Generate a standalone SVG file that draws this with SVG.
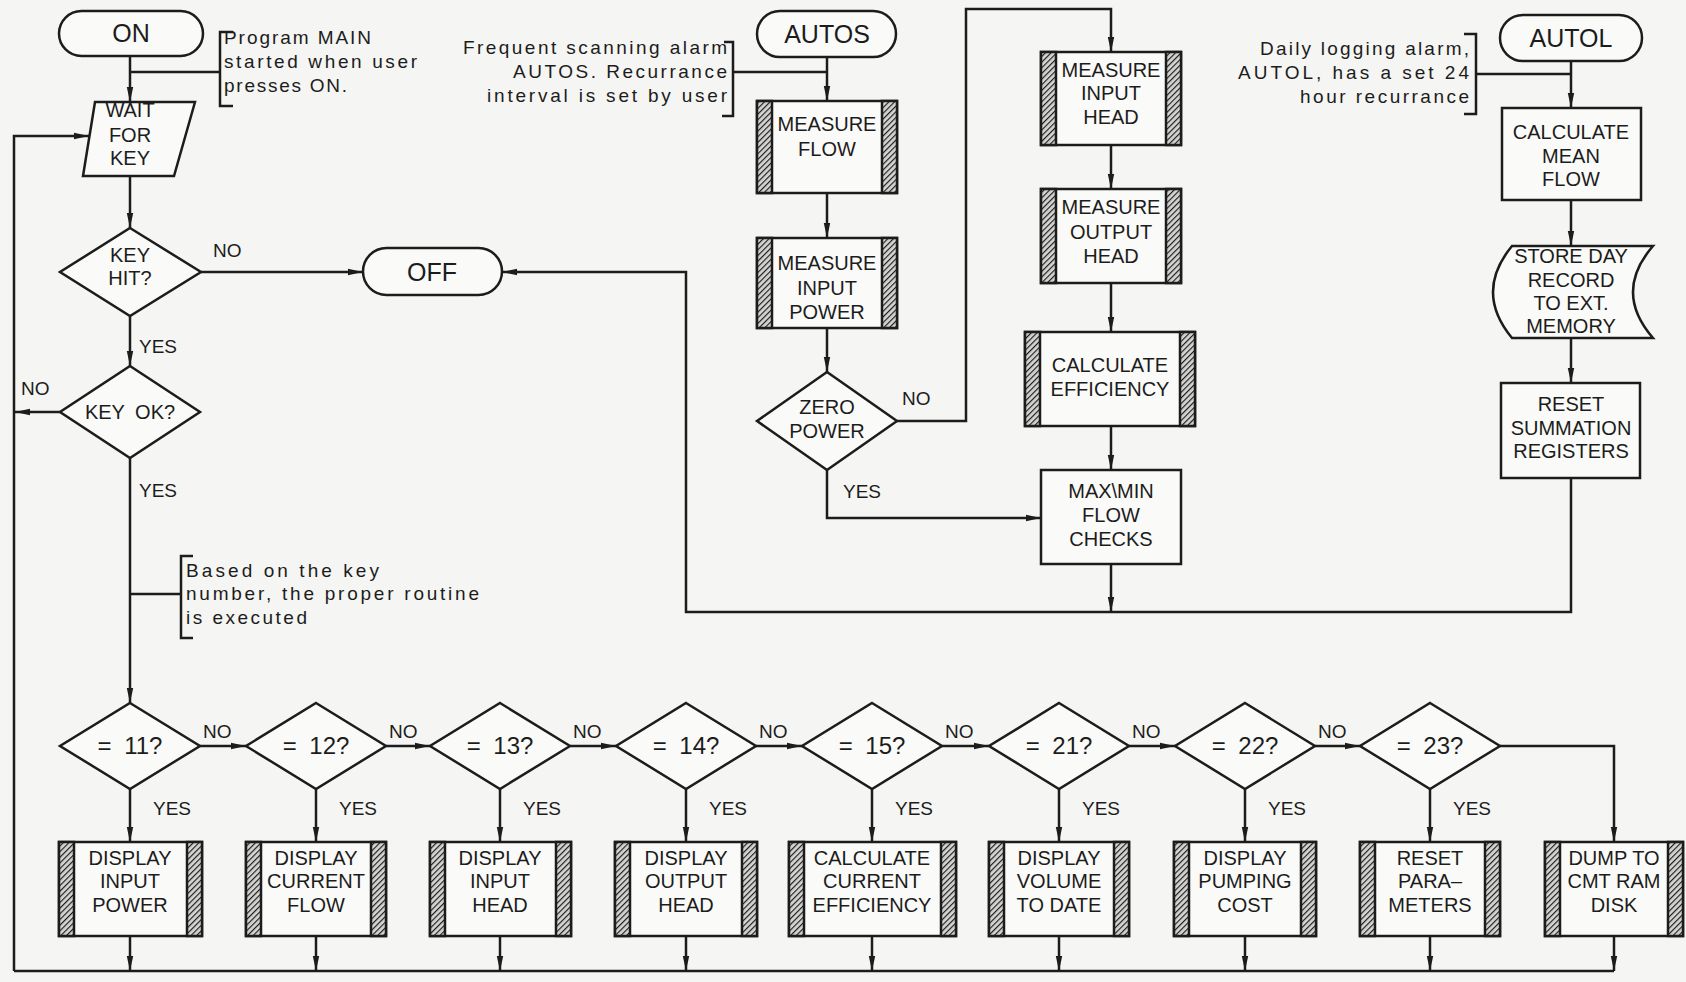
<svg xmlns="http://www.w3.org/2000/svg" width="1686" height="982" viewBox="0 0 1686 982">
<style>
.s{fill:none;stroke:#1c1c1c;stroke-width:2.5}
.b{fill:#fafaf8;stroke:#1c1c1c;stroke-width:2.5}
.bar{fill:url(#hatch);stroke:#1c1c1c;stroke-width:2.5}
.c{stroke:#1c1c1c;stroke-width:2.5;fill:none}
.a{marker-end:url(#ah)}
text{font-family:"Liberation Sans",Arial,sans-serif;fill:#1c1c1c}
.t{font-size:20px;text-anchor:middle}
.big{font-size:25px;text-anchor:middle}
.q{font-size:24px;text-anchor:middle;word-spacing:6px}
.l{font-size:19px}
.n{font-size:19px}
.e{font-size:19px;text-anchor:end}
</style>
<defs>
<marker id="ah" viewBox="0 0 15 8" refX="15" refY="4" markerWidth="15" markerHeight="8" orient="auto" markerUnits="userSpaceOnUse"><path d="M0,0.8 L15,4 L0,7.2 Z" fill="#1c1c1c"/></marker>
<pattern id="hatch" width="4" height="4" patternUnits="userSpaceOnUse" patternTransform="rotate(45)"><rect width="4" height="4" fill="#d4d4d2"/><line x1="0" y1="0" x2="0" y2="4" stroke="#1c1c1c" stroke-width="2.3"/></pattern>
</defs>
<rect width="1686" height="982" fill="#f5f5f3"/>

<g id="connectors">
<path class="c a" d="M130,56 V102"/>
<path class="c" d="M130,72 H220"/>
<path class="c a" d="M130,176 V228"/>
<path class="c a" d="M201,272 H363"/>
<path class="c a" d="M130,316 V366"/>
<path class="c a" d="M60,412 H15"/>
<path class="c a" d="M130,458 V703"/>
<path class="c" d="M130,594 H181"/>
<path class="c a" d="M14,971 V136 H89"/>
<path class="c" d="M14,971 H1614"/>
<path class="c a" d="M200,746 H246"/>
<path class="c a" d="M386,746 H430"/>
<path class="c a" d="M570,746 H616"/>
<path class="c a" d="M756,746 H802"/>
<path class="c a" d="M942,746 H989"/>
<path class="c a" d="M1129,746 H1175"/>
<path class="c a" d="M1315,746 H1360"/>
<path class="c a" d="M1500,746 H1614 V842"/>
<path class="c a" d="M130,789 V842"/>
<path class="c a" d="M316,789 V842"/>
<path class="c a" d="M500,789 V842"/>
<path class="c a" d="M686,789 V842"/>
<path class="c a" d="M872,789 V842"/>
<path class="c a" d="M1059,789 V842"/>
<path class="c a" d="M1245,789 V842"/>
<path class="c a" d="M1430,789 V842"/>
<path class="c a" d="M130,936 V971"/>
<path class="c a" d="M316,936 V971"/>
<path class="c a" d="M500,936 V971"/>
<path class="c a" d="M686,936 V971"/>
<path class="c a" d="M872,936 V971"/>
<path class="c a" d="M1059,936 V971"/>
<path class="c a" d="M1245,936 V971"/>
<path class="c a" d="M1430,936 V971"/>
<path class="c a" d="M1614,936 V971"/>
<path class="c a" d="M827,57 V101"/>
<path class="c" d="M733,72 H827"/>
<path class="c a" d="M827,193 V238"/>
<path class="c a" d="M827,328 V372"/>
<path class="c a" d="M897,421 H966 V9 H1111 V52"/>
<path class="c a" d="M827,470 V518 H1041"/>
<path class="c a" d="M1111,145 V189"/>
<path class="c a" d="M1111,283 V332"/>
<path class="c a" d="M1111,426 V470"/>
<path class="c a" d="M1111,564 V612"/>
<path class="c a" d="M1571,478 V612 H686 V272 H502"/>
<path class="c a" d="M1571,61 V108"/>
<path class="c" d="M1476,74 H1571"/>
<path class="c a" d="M1571,200 V246"/>
<path class="c a" d="M1571,338 V383"/>
<text class="l" x="213" y="257">NO</text>
<text class="l" x="139" y="353">YES</text>
<text class="l" x="21" y="395">NO</text>
<text class="l" x="139" y="497">YES</text>
<text class="l" x="902" y="405">NO</text>
<text class="l" x="843" y="498">YES</text>
<text class="l" x="203" y="738">NO</text>
<text class="l" x="389" y="738">NO</text>
<text class="l" x="573" y="738">NO</text>
<text class="l" x="759" y="738">NO</text>
<text class="l" x="945" y="738">NO</text>
<text class="l" x="1132" y="738">NO</text>
<text class="l" x="1318" y="738">NO</text>
<text class="l" x="153" y="815">YES</text>
<text class="l" x="339" y="815">YES</text>
<text class="l" x="523" y="815">YES</text>
<text class="l" x="709" y="815">YES</text>
<text class="l" x="895" y="815">YES</text>
<text class="l" x="1082" y="815">YES</text>
<text class="l" x="1268" y="815">YES</text>
<text class="l" x="1453" y="815">YES</text>
</g>

<g id="note-main">
<path class="s" d="M233,32 H220 V106 H233"/>
<text class="n" x="224" y="44" textLength="147" lengthAdjust="spacing">Program MAIN</text>
<text class="n" x="224" y="68" textLength="193" lengthAdjust="spacing">started when user</text>
<text class="n" x="224" y="92" textLength="123" lengthAdjust="spacing">presses ON.</text>
</g>
<g id="note-key">
<path class="s" d="M193,556 H181 V638 H193"/>
<text class="n" x="186" y="577" textLength="193" lengthAdjust="spacing">Based on the key</text>
<text class="n" x="186" y="600" textLength="293" lengthAdjust="spacing">number, the proper routine</text>
<text class="n" x="186" y="624" textLength="121" lengthAdjust="spacing">is executed</text>
</g>
<g id="note-autos">
<path class="s" d="M724,42 H733 V116 H722"/>
<text class="e" x="727" y="54" textLength="264" lengthAdjust="spacing">Frequent scanning alarm</text>
<text class="e" x="727" y="78" textLength="214" lengthAdjust="spacing">AUTOS.  Recurrance</text>
<text class="e" x="727" y="102" textLength="240" lengthAdjust="spacing">interval is set by user</text>
</g>
<g id="note-autol">
<path class="s" d="M1464,34 H1476 V114 H1464"/>
<text class="e" x="1469" y="55" textLength="209" lengthAdjust="spacing">Daily logging alarm,</text>
<text class="e" x="1469" y="79" textLength="231" lengthAdjust="spacing">AUTOL, has a set 24</text>
<text class="e" x="1469" y="103" textLength="169" lengthAdjust="spacing">hour recurrance</text>
</g>

<g id="on"><rect class="b" x="59" y="11" width="144" height="45" rx="22.5"/><text class="big" x="131" y="42">ON</text></g>
<g id="wait"><polygon class="b" points="95,102 195,102 174,176 83,176"/><text class="t" x="130" y="117">WAIT</text><text class="t" x="130" y="142">FOR</text><text class="t" x="130" y="165">KEY</text></g>
<g id="keyhit"><polygon class="b" points="130,228 201,272 130,316 60,272"/><text class="t" x="130" y="262">KEY</text><text class="t" x="130" y="285">HIT?</text></g>
<g id="off"><rect class="b" x="363" y="248" width="139" height="47" rx="23.5"/><text class="big" x="432" y="281">OFF</text></g>
<g id="keyok"><polygon class="b" points="130,366 200,412 130,458 60,412"/><text class="t" x="130" y="419" style="word-spacing:5px">KEY OK?</text></g>

<g id="q11"><polygon class="b" points="130,703 200,746 130,789 60,746"/><text class="q" x="130" y="754">= 11?</text></g>
<g id="q12"><polygon class="b" points="316,703 386,746 316,789 246,746"/><text class="q" x="316" y="754">= 12?</text></g>
<g id="q13"><polygon class="b" points="500,703 570,746 500,789 430,746"/><text class="q" x="500" y="754">= 13?</text></g>
<g id="q14"><polygon class="b" points="686,703 756,746 686,789 616,746"/><text class="q" x="686" y="754">= 14?</text></g>
<g id="q15"><polygon class="b" points="872,703 942,746 872,789 802,746"/><text class="q" x="872" y="754">= 15?</text></g>
<g id="q21"><polygon class="b" points="1059,703 1129,746 1059,789 989,746"/><text class="q" x="1059" y="754">= 21?</text></g>
<g id="q22"><polygon class="b" points="1245,703 1315,746 1245,789 1175,746"/><text class="q" x="1245" y="754">= 22?</text></g>
<g id="q23"><polygon class="b" points="1430,703 1500,746 1430,789 1360,746"/><text class="q" x="1430" y="754">= 23?</text></g>

<g id="p11"><rect class="b" x="59" y="842" width="143" height="94"/><rect class="bar" x="59" y="842" width="15" height="94"/><rect class="bar" x="187" y="842" width="15" height="94"/><text class="t" x="130" y="865">DISPLAY</text><text class="t" x="130" y="888">INPUT</text><text class="t" x="130" y="912">POWER</text></g>
<g id="p12"><rect class="b" x="246" y="842" width="140" height="94"/><rect class="bar" x="246" y="842" width="15" height="94"/><rect class="bar" x="371" y="842" width="15" height="94"/><text class="t" x="316" y="865">DISPLAY</text><text class="t" x="316" y="888">CURRENT</text><text class="t" x="316" y="912">FLOW</text></g>
<g id="p13"><rect class="b" x="430" y="842" width="141" height="94"/><rect class="bar" x="430" y="842" width="15" height="94"/><rect class="bar" x="556" y="842" width="15" height="94"/><text class="t" x="500" y="865">DISPLAY</text><text class="t" x="500" y="888">INPUT</text><text class="t" x="500" y="912">HEAD</text></g>
<g id="p14"><rect class="b" x="615" y="842" width="142" height="94"/><rect class="bar" x="615" y="842" width="15" height="94"/><rect class="bar" x="742" y="842" width="15" height="94"/><text class="t" x="686" y="865">DISPLAY</text><text class="t" x="686" y="888">OUTPUT</text><text class="t" x="686" y="912">HEAD</text></g>
<g id="p15"><rect class="b" x="789" y="842" width="167" height="94"/><rect class="bar" x="789" y="842" width="15" height="94"/><rect class="bar" x="941" y="842" width="15" height="94"/><text class="t" x="872" y="865">CALCULATE</text><text class="t" x="872" y="888">CURRENT</text><text class="t" x="872" y="912">EFFICIENCY</text></g>
<g id="p21"><rect class="b" x="989" y="842" width="140" height="94"/><rect class="bar" x="989" y="842" width="15" height="94"/><rect class="bar" x="1114" y="842" width="15" height="94"/><text class="t" x="1059" y="865">DISPLAY</text><text class="t" x="1059" y="888">VOLUME</text><text class="t" x="1059" y="912">TO DATE</text></g>
<g id="p22"><rect class="b" x="1174" y="842" width="142" height="94"/><rect class="bar" x="1174" y="842" width="15" height="94"/><rect class="bar" x="1301" y="842" width="15" height="94"/><text class="t" x="1245" y="865">DISPLAY</text><text class="t" x="1245" y="888">PUMPING</text><text class="t" x="1245" y="912">COST</text></g>
<g id="p23"><rect class="b" x="1360" y="842" width="140" height="94"/><rect class="bar" x="1360" y="842" width="15" height="94"/><rect class="bar" x="1485" y="842" width="15" height="94"/><text class="t" x="1430" y="865">RESET</text><text class="t" x="1430" y="888">PARA–</text><text class="t" x="1430" y="912">METERS</text></g>
<g id="pdump"><rect class="b" x="1545" y="842" width="138" height="94"/><rect class="bar" x="1545" y="842" width="15" height="94"/><rect class="bar" x="1668" y="842" width="15" height="94"/><text class="t" x="1614" y="865">DUMP TO</text><text class="t" x="1614" y="888">CMT RAM</text><text class="t" x="1614" y="912">DISK</text></g>

<g id="autos"><rect class="b" x="757" y="11" width="139" height="46" rx="23"/><text class="big" x="827" y="43">AUTOS</text></g>
<g id="mflow"><rect class="b" x="757" y="101" width="140" height="92"/><rect class="bar" x="757" y="101" width="15" height="92"/><rect class="bar" x="882" y="101" width="15" height="92"/><text class="t" x="827" y="131">MEASURE</text><text class="t" x="827" y="156">FLOW</text></g>
<g id="mpower"><rect class="b" x="757" y="238" width="140" height="90"/><rect class="bar" x="757" y="238" width="15" height="90"/><rect class="bar" x="882" y="238" width="15" height="90"/><text class="t" x="827" y="270">MEASURE</text><text class="t" x="827" y="295">INPUT</text><text class="t" x="827" y="319">POWER</text></g>
<g id="zero"><polygon class="b" points="827,372 897,421 827,470 757,421"/><text class="t" x="827" y="414">ZERO</text><text class="t" x="827" y="438">POWER</text></g>
<g id="mihead"><rect class="b" x="1041" y="52" width="140" height="93"/><rect class="bar" x="1041" y="52" width="15" height="93"/><rect class="bar" x="1166" y="52" width="15" height="93"/><text class="t" x="1111" y="77">MEASURE</text><text class="t" x="1111" y="100">INPUT</text><text class="t" x="1111" y="124">HEAD</text></g>
<g id="mohead"><rect class="b" x="1041" y="189" width="140" height="94"/><rect class="bar" x="1041" y="189" width="15" height="94"/><rect class="bar" x="1166" y="189" width="15" height="94"/><text class="t" x="1111" y="214">MEASURE</text><text class="t" x="1111" y="239">OUTPUT</text><text class="t" x="1111" y="263">HEAD</text></g>
<g id="calceff"><rect class="b" x="1025" y="332" width="170" height="94"/><rect class="bar" x="1025" y="332" width="15" height="94"/><rect class="bar" x="1180" y="332" width="15" height="94"/><text class="t" x="1110" y="372">CALCULATE</text><text class="t" x="1110" y="396">EFFICIENCY</text></g>
<g id="maxmin"><rect class="b" x="1041" y="470" width="140" height="94"/><text class="t" x="1111" y="498">MAX\MIN</text><text class="t" x="1111" y="522">FLOW</text><text class="t" x="1111" y="546">CHECKS</text></g>

<g id="autol"><rect class="b" x="1500" y="15" width="142" height="46" rx="23"/><text class="big" x="1571" y="47">AUTOL</text></g>
<g id="mean"><rect class="b" x="1502" y="108" width="139" height="92"/><text class="t" x="1571" y="139">CALCULATE</text><text class="t" x="1571" y="163">MEAN</text><text class="t" x="1571" y="186">FLOW</text></g>
<g id="store"><path class="b" d="M1512,246 H1653 Q1613,292 1653,338 H1512 Q1474,292 1512,246 Z"/><text class="t" x="1571" y="263">STORE DAY</text><text class="t" x="1571" y="287">RECORD</text><text class="t" x="1571" y="310">TO EXT.</text><text class="t" x="1571" y="333">MEMORY</text></g>
<g id="resetsum"><rect class="b" x="1501" y="383" width="139" height="95"/><text class="t" x="1571" y="411">RESET</text><text class="t" x="1571" y="435">SUMMATION</text><text class="t" x="1571" y="458">REGISTERS</text></g>
</svg>
